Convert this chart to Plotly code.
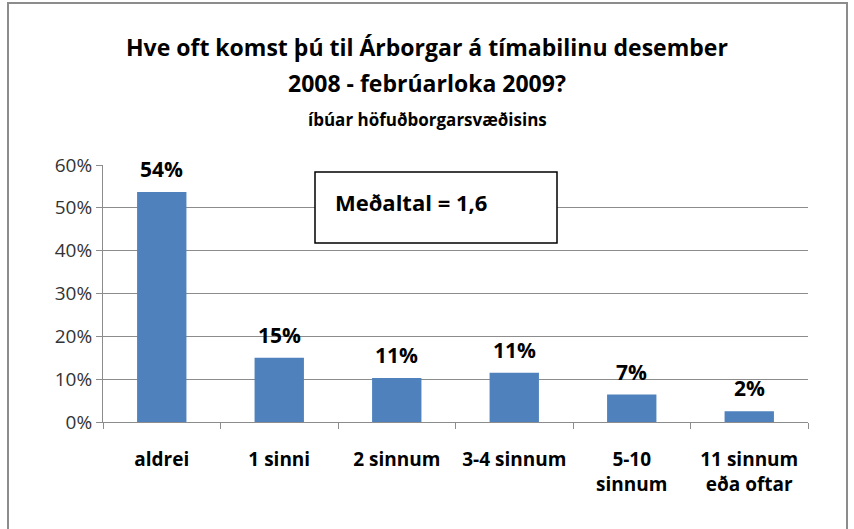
import plotly.graph_objects as go

categories = ["aldrei", "1 sinni", "2 sinnum", "3-4 sinnum", "5-10<br>sinnum", "11 sinnum<br>eða oftar"]
shares = [53.7, 15.0, 10.3, 11.5, 6.4, 2.5]
share_labels = ["54%", "15%", "11%", "11%", "7%", "2%"]
y_ticks = [0, 10, 20, 30, 40, 50, 60]
y_tick_labels = ["0%", "10%", "20%", "30%", "40%", "50%", "60%"]

FONT = "Open Sans"
W, H = 854, 529
L, R, T, B = 103, 46, 165, 107
PW, PH = W - L - R, H - T - B


def px(x):
    return (x - L) / PW


def py(y):
    return (H - B - y) / PH


fig = go.Figure()
fig.add_trace(go.Bar(
    x=categories,
    y=shares,
    marker=dict(color="#4F81BD", line=dict(width=0)),
    width=0.42,
    hoverinfo="skip",
))

for c, v, t in zip(categories, shares, share_labels):
    fig.add_annotation(x=c, y=v, text="<b>" + t + "</b>", showarrow=False,
                       yanchor="bottom", yshift=7,
                       font=dict(family=FONT, size=21, color="#000000"))


def paper_text(x, y, text, size, xanchor="center"):
    fig.add_annotation(xref="paper", yref="paper", x=px(x), y=py(y),
                       xanchor=xanchor, yanchor="middle", text=text, showarrow=False,
                       font=dict(family=FONT, size=size, color="#000000"))


paper_text(427, 47, "<b>Hve oft komst þú til Árborgar á tímabilinu desember</b>", 23)
paper_text(427, 83, "<b>2008 - febrúarloka 2009?</b>", 23)
paper_text(427, 120, "<b>íbúar höfuðborgarsvæðisins</b>", 17)

# mean box
fig.add_shape(type="rect", xref="paper", yref="paper",
              x0=px(315), x1=px(557), y0=py(243), y1=py(172),
              line=dict(color="#000000", width=1.5), fillcolor="#ffffff")
paper_text(333, 202, "<b>Meðaltal = 1,6</b>", 22, xanchor="left")

# chart frame
fig.add_shape(type="rect", xref="paper", yref="paper",
              x0=px(8), x1=px(847), y0=py(545), y1=py(3),
              line=dict(color="#8c8c8c", width=2), layer="below")

fig.update_layout(
    width=W, height=H,
    margin=dict(l=L, r=R, t=T, b=B),
    paper_bgcolor="#ffffff",
    plot_bgcolor="#ffffff",
    showlegend=False,
)
fig.update_xaxes(
    type="category",
    automargin=False, tickangle=0,
    showline=True, linecolor="#8c8c8c", linewidth=1,
    ticks="outside", tickson="boundaries", ticklen=6, tickcolor="#8c8c8c",
    ticklabelstandoff=20,
    tickfont=dict(family=FONT, size=19, color="#000000", weight="bold"),
    showgrid=False,
)
fig.update_yaxes(
    range=[0, 60],
    automargin=False,
    tickvals=y_ticks, ticktext=y_tick_labels,
    showline=True, linecolor="#8c8c8c", linewidth=1,
    ticks="outside", ticklen=6, tickcolor="#8c8c8c",
    showgrid=True, gridcolor="#8c8c8c", gridwidth=1,
    zeroline=False,
    tickfont=dict(family=FONT, size=19, color="#333333"),
)

fig.write_html("out.html", config={"displayModeBar": False},
               post_script="document.body.style.margin='0';")
